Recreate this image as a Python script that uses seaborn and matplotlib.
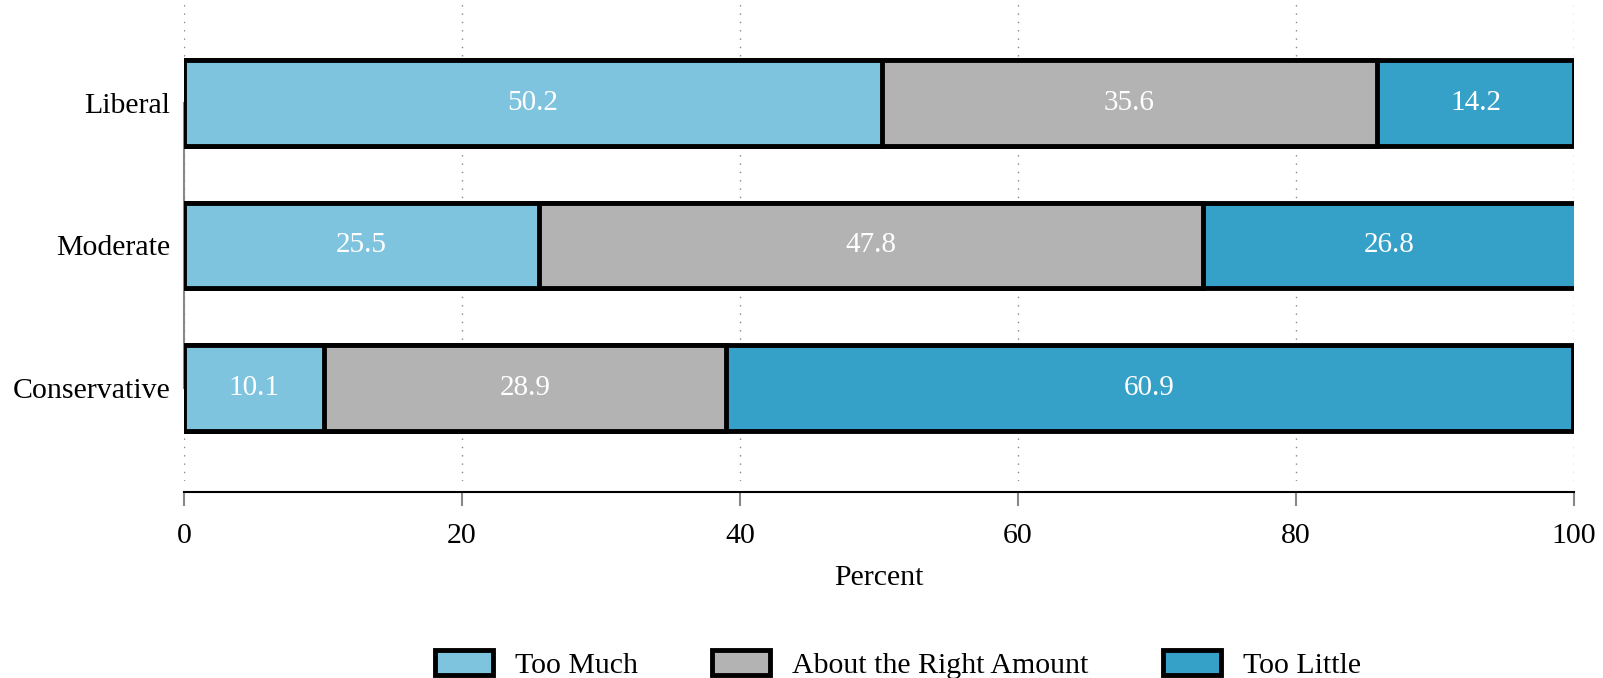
import pandas as pd
import matplotlib.pyplot as plt
import seaborn as sns

# datos
ideology = ["Liberal", "Moderate", "Conservative"]
too_much = [50.2, 25.5, 10.1]
about_right = [35.6, 47.8, 28.9]
too_little = [14.2, 26.8, 60.9]

series_names = ["Too Much", "About the Right Amount", "Too Little"]
colors = ["#7fc4de", "#b3b3b3", "#35a1c8"]

sns.set_theme(style="white")
plt.rcParams['font.family'] = ['Liberation Serif', 'DejaVu Serif']
plt.rcParams['text.color'] = 'black'
plt.rcParams['xtick.labelcolor'] = 'black'
plt.rcParams['ytick.labelcolor'] = 'black'
plt.rcParams['axes.labelcolor'] = 'black'

df = pd.DataFrame({
    "Ideology": ideology,
    "Too Much": too_much,
    "About the Right Amount": about_right,
    "Too Little": too_little,
})
df["c1"] = df["Too Much"]
df["c2"] = df["c1"] + df["About the Right Amount"]
df["c3"] = df["c2"] + df["Too Little"]

fig = plt.figure(figsize=(16.03, 6.78), dpi=100)
ax = fig.add_axes([0.1148, 0.2906, 0.8672, 0.7094])

# barras apiladas: del total acumulado hacia atras
for col, color in zip(["c3", "c2", "c1"], colors[::-1]):
    sns.barplot(data=df, x=col, y="Ideology", order=ideology, color=color,
                saturation=1, width=0.6, edgecolor="black", linewidth=3.5,
                ax=ax, zorder=3)

# etiquetas en el centro de cada segmento
for i, row in df.iterrows():
    lefts = [0, row["c1"], row["c2"]]
    vals = [row["Too Much"], row["About the Right Amount"], row["Too Little"]]
    for l, v in zip(lefts, vals):
        ax.text(l + v / 2, i, f"{v:.1f}", ha="center", va="center",
                color="white", fontsize=21, zorder=4)

ax.set_xlim(0, 100)
ax.set_ylim(2.65, -0.72)
ax.set_xticks([0, 20, 40, 60, 80, 100])
ax.xaxis.grid(True, linestyle=(0, (1, 5)), color="#888888", linewidth=1)
ax.set_axisbelow(True)

for s in ["top", "right"]:
    ax.spines[s].set_visible(False)
ax.spines["left"].set_bounds(0, 2)
ax.spines["left"].set_color("#888888")
ax.spines["left"].set_linewidth(1.5)
ax.spines["bottom"].set_position(("outward", 8))
ax.spines["bottom"].set_bounds(0, 100)
ax.spines["bottom"].set_color("black")
ax.spines["bottom"].set_linewidth(1.5)

ax.tick_params(axis="x", bottom=True, direction="out", length=10, width=1.5,
               color="#888888", labelsize=21.5, pad=12)
ax.tick_params(axis="y", left=False, labelsize=21.5, pad=4)
ax.set_xlabel("Percent", fontsize=21.5, labelpad=12)
ax.set_ylabel("")

handles = [plt.Rectangle((0, 0), 1, 1, facecolor=c, edgecolor="black", linewidth=3.5)
           for c in colors]
fig.legend(handles, series_names, loc="center", bbox_to_anchor=(0.56, 0.02),
           ncol=3, frameon=False, fontsize=21.5, handlelength=1.95, handleheight=0.9,
           columnspacing=2.5, handletextpad=0.72)

fig.savefig("out.png", dpi=100)
plt.close(fig)
